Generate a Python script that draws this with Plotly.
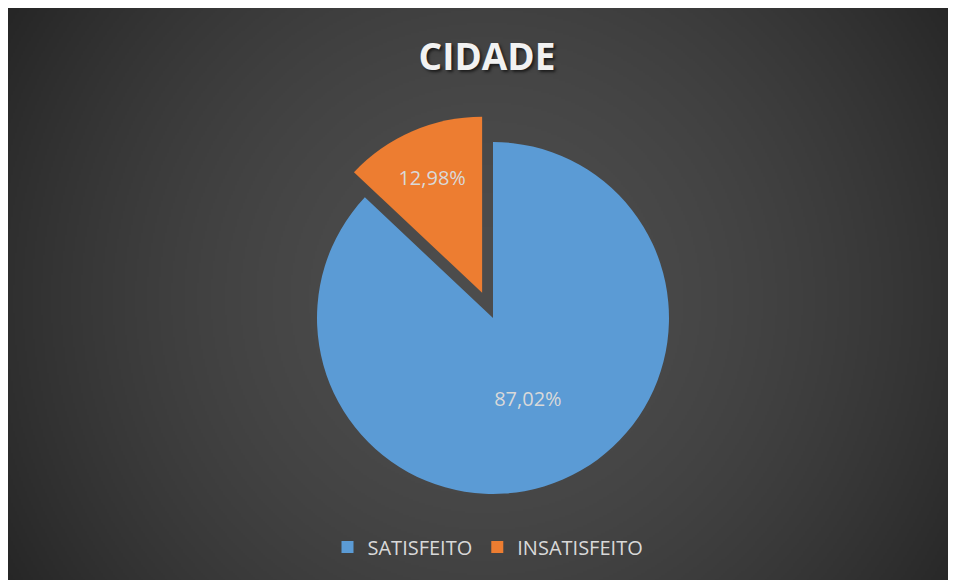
import base64
import struct
import zlib

import numpy as np
import plotly.graph_objects as go

# ---- data ----
categories = ["SATISFEITO", "INSATISFEITO"]
values = [87.02, 12.98]
pulls = [0.0, 0.156]
colors = ["#5b9bd5", "#ed7d31"]
title_text = "CIDADE"

W, H = 956, 580


def make_png(arr):
    h, w, _ = arr.shape
    raw = b"".join(b"\x00" + arr[i].tobytes() for i in range(h))

    def chunk(t, d):
        c = struct.pack(">I", len(d)) + t + d
        return c + struct.pack(">I", zlib.crc32(t + d) & 0xFFFFFFFF)

    return (b"\x89PNG\r\n\x1a\n"
            + chunk(b"IHDR", struct.pack(">IIBBBBB", w, h, 8, 2, 0, 0, 0))
            + chunk(b"IDAT", zlib.compress(raw, 9))
            + chunk(b"IEND", b""))


# radial gradient background image (covers the whole figure)
gw, gh = W // 2, H // 2
yy, xx = np.mgrid[0:gh, 0:gw].astype(float)
cx, cy = gw * 0.5, gh * 0.5
dist = np.sqrt((xx - cx) ** 2 + (yy - cy) ** 2)
t = dist / np.sqrt(cx ** 2 + cy ** 2)
val = 77 - 39 * t ** 1.8
img = np.clip(np.stack([val, val, val], axis=-1), 0, 255).astype(np.uint8)
src = "data:image/png;base64," + base64.b64encode(make_png(img)).decode()

# pie geometry (pixels, figure coordinates)
pcx, pcy, r = 485, 310, 176
box = 2 * r * (1 + max(pulls))
dom_x = [(pcx - box / 2) / W, (pcx + box / 2) / W]
dom_y = [(H - pcy - box / 2) / H, (H - pcy + box / 2) / H]

fig = go.Figure(
    go.Pie(
        labels=categories,
        values=values,
        pull=pulls,
        sort=False,
        direction="clockwise",
        rotation=0,
        marker=dict(colors=colors, line=dict(width=0)),
        texttemplate="%{percent:.2%}",
        textposition="inside",
        insidetextorientation="horizontal",
        insidetextfont=dict(family="Open Sans", size=20, color="#d9d9d9"),
        domain=dict(x=dom_x, y=dom_y),
        hoverinfo="label+percent",
    )
)

fig.update_layout(
    width=W,
    height=H,
    margin=dict(l=0, r=0, t=0, b=0),
    paper_bgcolor="#3a3a3a",
    plot_bgcolor="rgba(0,0,0,0)",
    separators=",.",
    title=dict(
        text=title_text,
        x=479 / W,
        xanchor="center",
        y=1 - 49 / H,
        yanchor="middle",
        font=dict(family="Open Sans", size=37, color="#f2f2f2", weight="bold",
                  shadow="2px 2px 3px rgba(0,0,0,0.6)"),
    ),
    legend=dict(
        orientation="h",
        x=480 / W,
        xanchor="center",
        y=1 - 539 / H,
        yanchor="middle",
        itemwidth=30,
        font=dict(family="Open Sans", size=20, color="#d9d9d9"),
        bgcolor="rgba(0,0,0,0)",
    ),
    images=[dict(
        source=src,
        xref="paper", yref="paper",
        x=0, y=1,
        sizex=1, sizey=1,
        xanchor="left", yanchor="top",
        sizing="stretch",
        layer="below",
    )],
)

fig.write_html("out.html", post_script="document.body.style.overflow='hidden';")
